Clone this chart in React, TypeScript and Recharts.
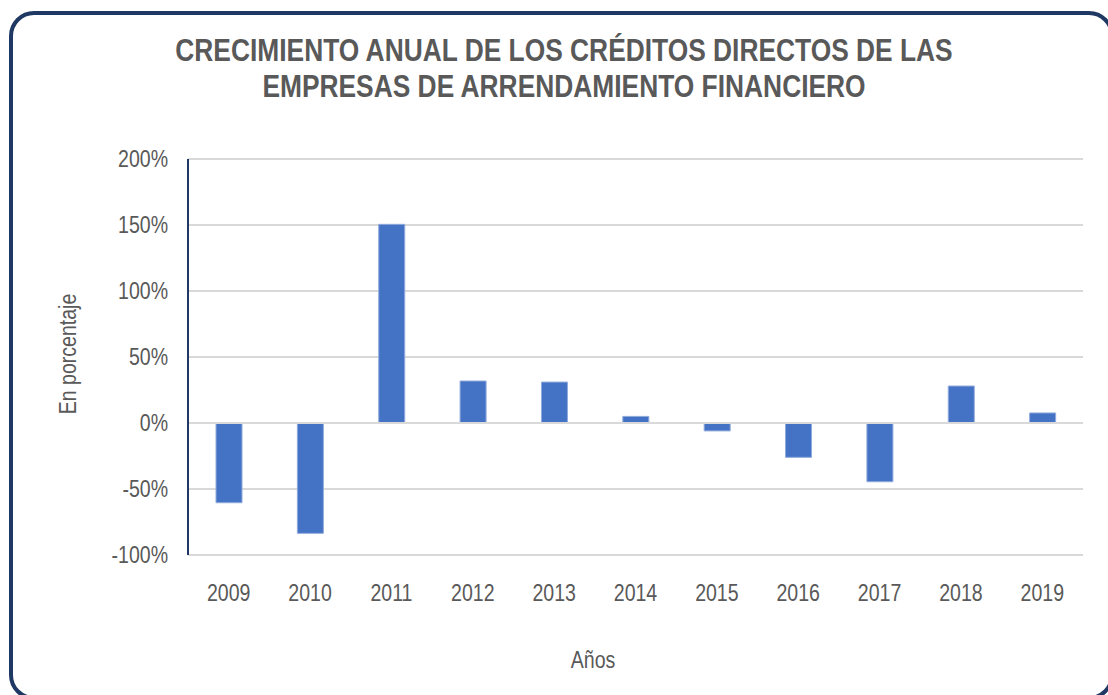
import React from 'react';
import { BarChart, Bar, XAxis, YAxis, CartesianGrid, ReferenceLine } from 'recharts';

const years = ['2009', '2010', '2011', '2012', '2013', '2014', '2015', '2016', '2017', '2018', '2019'];
const growth = [-60.4, -83.6, 150.5, 31.8, 31, 5, -6, -26, -44.5, 28, 7.6];
const yTicks = [-100, -50, 0, 50, 100, 150, 200];

const data = years.map((year, i) => ({ year, growth: growth[i] }));

const FONT = '"Liberation Sans", Arial, sans-serif';
const GRAY = '#595959';
// no narrow font installed, so squeeze the regular one
const NARROW = 0.85;

const XTick = (props: any) => {
  const { x, y, payload } = props;
  return (
    <text
      transform={`translate(${x},${y + 46}) scale(${NARROW},1)`}
      textAnchor="middle"
      fill={GRAY}
      fontSize={23}
      fontFamily={FONT}
    >
      {payload.value}
    </text>
  );
};

const YTick = (props: any) => {
  const { x, y, payload } = props;
  return (
    <text
      transform={`translate(${x - 20},${y + 8}) scale(${NARROW},1)`}
      textAnchor="end"
      fill={GRAY}
      fontSize={23}
      fontFamily={FONT}
    >
      {payload.value}%
    </text>
  );
};

export default function App() {
  return (
    <div style={{ position: 'absolute', left: 0, top: 0, width: 1108, height: 695, overflow: 'hidden', background: '#fff' }}>
      <div
        style={{
          position: 'absolute',
          left: 9,
          top: 11,
          width: 1105,
          height: 689,
          boxSizing: 'border-box',
          border: '4px solid #1F3864',
          borderRadius: 25,
        }}
      />
      <div
        style={{
          position: 'absolute',
          left: 0,
          top: 33,
          width: 1128,
          textAlign: 'center',
          fontFamily: FONT,
          fontWeight: 'bold',
          fontSize: 31,
          lineHeight: '36px',
          color: GRAY,
          transform: `scaleX(${NARROW})`,
          transformOrigin: '564px 0',
        }}
      >
        CRECIMIENTO ANUAL DE LOS CRÉDITOS DIRECTOS DE LAS
        <br />
        EMPRESAS DE ARRENDAMIENTO FINANCIERO
      </div>
      <div
        style={{
          position: 'absolute',
          left: 68,
          top: 354,
          transform: `translate(-50%, -50%) rotate(-90deg) scaleX(${NARROW})`,
          whiteSpace: 'nowrap',
          fontFamily: FONT,
          fontSize: 23,
          color: GRAY,
        }}
      >
        En porcentaje
      </div>
      <div
        style={{
          position: 'absolute',
          left: 593,
          top: 660,
          transform: `translate(-50%, -50%) scaleX(${NARROW})`,
          whiteSpace: 'nowrap',
          fontFamily: FONT,
          fontSize: 23,
          color: GRAY,
        }}
      >
        Años
      </div>
      <div style={{ position: 'absolute', left: 0, top: 0 }}>
        <BarChart width={1108} height={695} data={data} margin={{ top: 159, right: 25, left: 108, bottom: 90 }}>
          <CartesianGrid vertical={false} stroke="#d9d9d9" strokeWidth={2} />
          <XAxis
            dataKey="year"
            axisLine={false}
            tickLine={false}
            tickSize={0}
            tickMargin={0}
            height={50}
            tick={<XTick />}
            interval={0}
          />
          <YAxis
            domain={[-100, 200]}
            ticks={yTicks}
            width={80}
            axisLine={{ stroke: '#1F3864', strokeWidth: 2 }}
            tickLine={false}
            tickSize={0}
            tickMargin={0}
            tick={<YTick />}
            interval={0}
          />
          <ReferenceLine y={0} stroke="#d9d9d9" strokeWidth={2} />
          <Bar dataKey="growth" fill="#4472C4" stroke="#8FAADC" strokeWidth={1} barSize={26} isAnimationActive={false} />
        </BarChart>
      </div>
    </div>
  );
}
